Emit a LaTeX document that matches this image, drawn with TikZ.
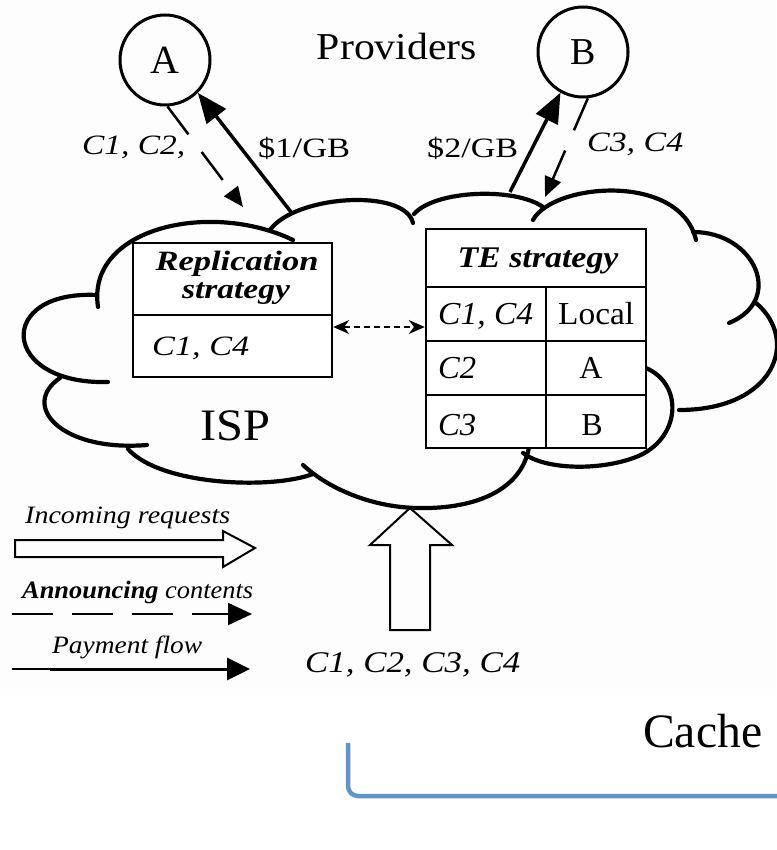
\documentclass[tikz,border=0pt]{standalone}
\usepackage{fontspec}
\setmainfont{Liberation Serif}
\usepackage{graphicx}
\usetikzlibrary{arrows.meta}
\definecolor{bgc}{RGB}{253,253,253}
\definecolor{bluel}{RGB}{98,148,204}
\newcommand\fw[3]{\resizebox{#1pt}{\height}{\fontsize{#2pt}{#2pt}\selectfont #3}}
\begin{document}
\begin{tikzpicture}[x=1pt,y=-1pt,
  cloud/.style={line width=4.2pt, line cap=round, line join=round},
  cell/.style={draw, fill=white, line width=2.5pt, inner sep=0pt},
  txt/.style={inner sep=0pt, anchor=base west},
  txc/.style={inner sep=0pt, anchor=base},
  prov/.style={circle, draw, line width=3pt, minimum size=90pt, inner sep=0pt},
  pay/.style={line width=3.5pt, -{Triangle[length=30pt,width=24pt]}},
  ann/.style={line width=2.5pt, dash pattern=on 35pt off 22pt, -{Triangle[length=20pt,width=17pt]}},
]
\useasboundingbox (0,0) rectangle (776,850);
\fill[bgc] (0,0) rectangle (776,690);

% cloud
\draw[cloud] (98,307) .. controls (86,228) and (210,200) .. (293,240);
\draw[cloud] (270,230) .. controls (295,195) and (405,188) .. (413,223);
\draw[cloud] (414,214) .. controls (435,190) and (515,187) .. (543,207);
\draw[cloud] (533,220) .. controls (553,183) and (680,172) .. (696,240);
\draw[cloud] (693,232) .. controls (755,232) and (785,300) .. (729,323);
\draw[cloud] (756,303) .. controls (800,340) and (775,410) .. (679,410);
\draw[cloud] (646,368) .. controls (685,385) and (680,440) .. (636,457)
                       .. controls (600,471) and (545,470) .. (523,453);
\draw[cloud] (529,447) .. controls (522,490) and (475,509) .. (420,508)
                       .. controls (375,508) and (330,490) .. (303,465);
\draw[cloud] (128,449) .. controls (160,485) and (270,490) .. (313,474);
\draw[cloud] (60,378) .. controls (20,405) and (60,452) .. (147,445);
\draw[cloud] (97,295) .. controls (-5,290) and (0,385) .. (108,382);

% providers
\node[txc] (prov) at (397,60) {\fw{160}{38}{Providers}};
\node[prov] (A) at (165,60) {\fontsize{40pt}{40pt}\selectfont A};
\node[prov] (B) at (583,52) {\fontsize{38pt}{38pt}\selectfont B};

\coordinate (pa) at (291,212);
\coordinate (da) at (243,207);
\coordinate (pb) at (510,192);
\coordinate (db) at (545,197);
\draw[pay] (pa) -- (A.-45);
\draw[ann] (A.-87) -- (da);
\draw[pay] (pb) -- (B.-119);
\draw[ann] (B.-84) -- (db);

\node[txt] (lc12) at (82,155) {\fw{103}{28}{\itshape C1, C2,}};
\node[txt] (l1gb) at (258,158) {\fw{92}{28}{\$1/GB}};
\node[txt] (l2gb) at (427,158) {\fw{91}{28}{\$2/GB}};
\node[txt] (lc34) at (587,152) {\fw{96}{28}{\itshape C3, C4}};

% tables
\node[cell, minimum width=199pt, minimum height=72pt] (repH) at (232.5,279) {};
\node[cell, minimum width=199pt, minimum height=62pt] (repB) at (232.5,346) {};
\node[cell, minimum width=220pt, minimum height=58pt] (teH) at (536,258) {};
\node[cell, minimum width=120pt, minimum height=54pt] (t1a) at (486,314) {};
\node[cell, minimum width=100pt, minimum height=54pt] (t1b) at (596,314) {};
\node[cell, minimum width=120pt, minimum height=54pt] (t2a) at (486,368) {};
\node[cell, minimum width=100pt, minimum height=54pt] (t2b) at (596,368) {};
\node[cell, minimum width=120pt, minimum height=53pt] (t3a) at (486,421.5) {};
\node[cell, minimum width=100pt, minimum height=53pt] (t3b) at (596,421.5) {};

\node[txc] (trep) at (237,270) {\fw{163}{28}{\bfseries\itshape Replication}};
\node[txc] (tstr) at (236,298) {\fw{108}{28}{\bfseries\itshape strategy}};
\node[txt] (trc) at (152,355) {\fw{97}{28}{\itshape C1, C4}};
\node[txc] (tte) at (538,267) {\fw{161}{30}{\bfseries\itshape TE strategy}};
\node[txt] (tc14) at (438,324) {\fw{95}{32}{\itshape C1, C4}};
\node[txt] (tloc) at (558,324) {\fw{76}{32}{Local}};
\node[txt] (tc2) at (438,378) {\fw{38}{32}{\itshape C2}};
\node[txc] (tA) at (591,378) {\fontsize{32pt}{32pt}\selectfont A};
\node[txt] (tc3) at (438,435) {\fw{38}{32}{\itshape C3}};
\node[txc] (tB) at (592,435) {\fontsize{32pt}{32pt}\selectfont B};
\node[txt] (isp) at (200,440) {\fw{70}{45}{ISP}};

\coordinate (yarr) at (0,327);
\draw[line width=1.3pt, dash pattern=on 6pt off 4pt,
  {Stealth[length=16pt,width=14pt]}-{Stealth[length=16pt,width=14pt]}]
  (repB.east |- yarr) -- (t1a.west |- yarr);

% incoming big arrow
\draw[line width=2pt, line join=miter] (390,630) -- (390,545) -- (370,545) -- (410,508) -- (452,545) -- (430,545) -- (430,630) -- cycle;
\node[txt] (lall) at (305,672) {\fw{215}{30}{\itshape C1, C2, C3, C4}};

% legend
\node[txt] (lin) at (25,523) {\fw{205}{25}{\itshape Incoming requests}};
\draw[line width=2pt, line join=miter] (15,540) -- (223,540) -- (223,531) -- (255,548) -- (223,567) -- (223,557) -- (15,557) -- cycle;
\node[txt] (lan) at (22,598) {\fw{231}{25}{{\bfseries\itshape Announcing} \itshape contents}};
\coordinate (l2s) at (12,614);
\coordinate (l2e) at (252,614);
\draw[line width=2.2pt, dash pattern=on 41pt off 19pt, -{Triangle[length=24pt,width=22pt]}] (l2s) -- (l2e);
\node[txt] (lpf) at (52,653) {\fw{150}{25}{\itshape Payment flow}};
\coordinate (l3s) at (12,669);
\coordinate (l3m) at (50,669);
\coordinate (l3e) at (250,669);
\draw[line width=1.5pt] (l3s) -- (l3m);
\draw[line width=3pt, -{Triangle[length=23pt,width=22pt]}] (l3m) -- (l3e);

% bottom
\node[txt] (cache) at (643,747) {\fw{119}{48}{Cache}};
\draw[bluel, line width=4.5pt, rounded corners=10pt] (348,743) |- (780,796);
\end{tikzpicture}
\end{document}
